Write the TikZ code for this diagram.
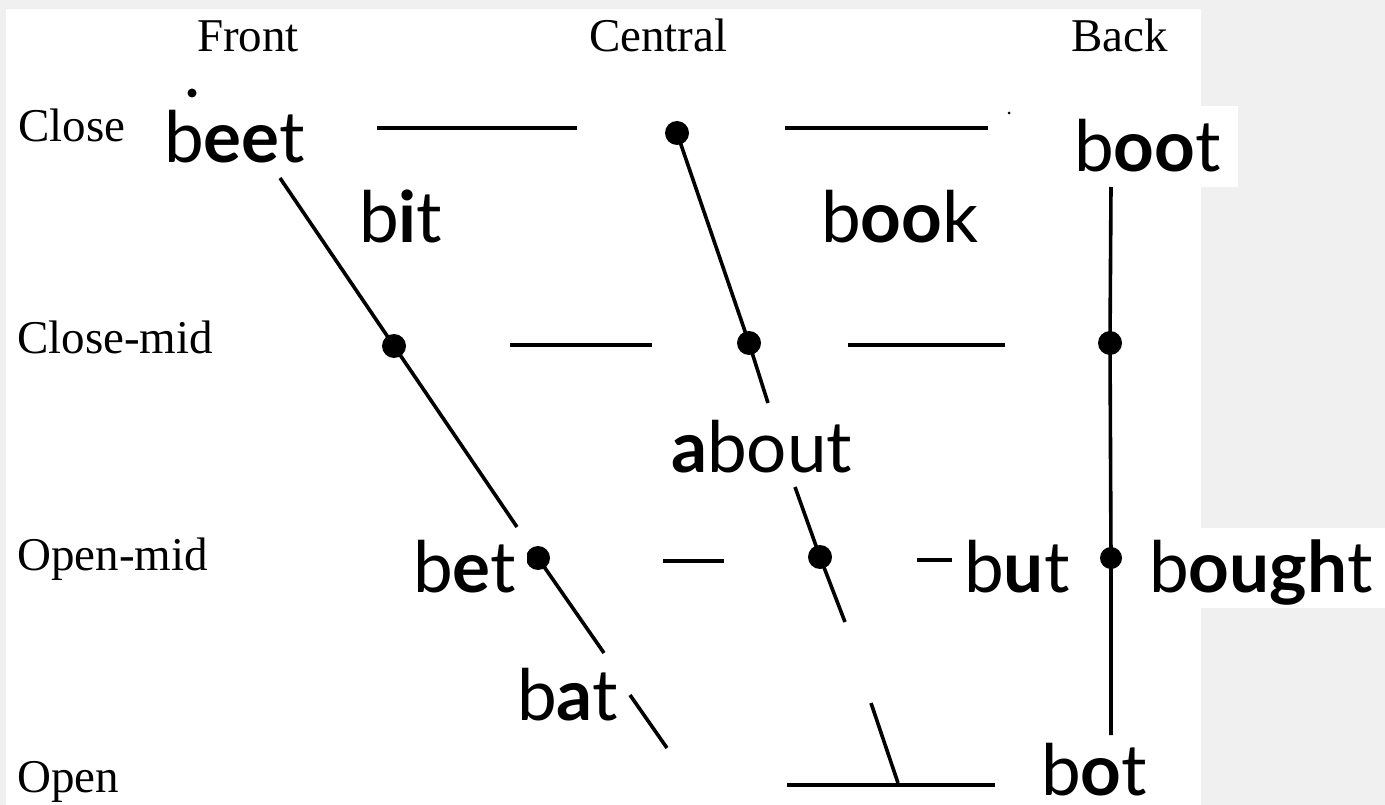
\documentclass[tikz,border=0pt]{standalone}
\usepackage{fontspec}
\setmainfont{Liberation Serif}
\newfontfamily\gill{Lato}
\definecolor{bg}{HTML}{F0F0F0}
\begin{document}
\begin{tikzpicture}[x=1pt,y=-1pt,
  lbl/.style={font=\fontsize{47}{52}\selectfont, anchor=base west, inner sep=0pt},
  word/.style={font=\gill\fontsize{71}{76}\selectfont, anchor=base west, inner sep=0pt},
  ln/.style={line width=3.6pt},
  vdot/.style={circle, fill=black, inner sep=0pt, minimum size=24pt}]
\useasboundingbox (0,0) rectangle (1385,805);
% backgrounds
\fill[bg] (0,0) rectangle (1385,805);
\fill[white] (6,9) rectangle (1201,805);
\fill[white] (1063,106) rectangle (1238,187);
\fill[white] (1201,528) rectangle (1385,608);

% axis labels
\node[lbl] (front) at (197,52) {Front};
\node[lbl] (central) at (589,52) {Central};
\node[lbl] (back) at (1071,52) {Back};
\node[lbl] (close) at (18,142) {Close};
\node[lbl] (closemid) at (17,353) {Close-mid};
\node[lbl] (openmid) at (17,570) {Open-mid};
\node[lbl] (open) at (17,792) {Open};

% named points
\coordinate (fa) at (280,178);
\coordinate (fb) at (517,527);
\coordinate (fc) at (604,653);
\coordinate (fd) at (630,695);
\coordinate (fe) at (667,748);
\coordinate (ca) at (768,403);
\coordinate (cb) at (795,487);
\coordinate (cc) at (845,622);
\coordinate (cd) at (871,703);
\coordinate (ce) at (898,783);
\coordinate (ba) at (1111,187);
\coordinate (bb) at (1111,735);

% dots
\node[vdot] (fcm) at (394,346) {};
\node[vdot] (ccl) at (677,133) {};
\node[vdot] (ccm) at (749,343) {};
\node[vdot] (com) at (820,557) {};
\node[vdot] (bcm) at (1110,343) {};
\node[vdot, minimum size=22pt] (bom) at (1111,558) {};
\begin{scope}
\clip (527,520) rectangle (570,600);
\node[vdot] (fom) at (538,558) {};
\end{scope}
\node[circle, fill=black, inner sep=0pt, minimum size=9pt] (idot) at (192,93) {};
\node[circle, fill=black, inner sep=0pt, minimum size=3pt] (speck) at (1009,113) {};

% front line
\draw[ln] (fa) -- (fcm.center) -- (fb);
\draw[ln] (fom.center) -- (fc);
\draw[ln] (fd) -- (fe);
% central line
\draw[ln] (ccl.center) -- (ccm.center) -- (ca);
\draw[ln] (cb) -- (com.center) -- (cc);
\draw[ln] (cd) -- (ce);
% back line
\draw[ln] (ba) -- (bcm.center) -- (bom.center) -- (bb);

% horizontal guides
\coordinate (h1a) at (377,128); \coordinate (h1b) at (577,128);
\coordinate (h1c) at (785,128); \coordinate (h1d) at (988,128);
\coordinate (h2a) at (510,345); \coordinate (h2b) at (652,345);
\coordinate (h2c) at (848,345); \coordinate (h2d) at (1005,345);
\coordinate (h3a) at (663,561); \coordinate (h3b) at (724,561);
\coordinate (h3c) at (917,560); \coordinate (h3d) at (952,560);
\coordinate (h4a) at (787,785); \coordinate (h4b) at (995,785);
\draw[ln] (h1a) -- (h1b);
\draw[ln] (h1c) -- (h1d);
\draw[ln] (h2a) -- (h2b);
\draw[ln] (h2c) -- (h2d);
\draw[ln] (h3a) -- (h3b);
\draw[ln] (h3c) -- (h3d);
\draw[ln] (h4a) -- (h4b);

% example words
\node[word] (beet) at (164,163) {b{\bfseries ee}t};
\node[word] (bit) at (359,243) {b{\bfseries i}t};
\node[word] (book) at (821,243) {b{\bfseries oo}k};
\node[word] (boot) at (1074,172) {b{\bfseries oo}t};
\node[word] (about) at (671,472) {{\bfseries a}bout};
\node[word] (bet) at (413,592) {b{\bfseries e}t};
\node[word] (but) at (964,592) {b{\bfseries u}t};
\node[word] (bought) at (1149,592) {b{\bfseries ough}t};
\node[word] (bat) at (517,720) {b{\bfseries a}t};
\node[word] (bot) at (1041,795) {b{\bfseries o}t};
\end{tikzpicture}
\end{document}
